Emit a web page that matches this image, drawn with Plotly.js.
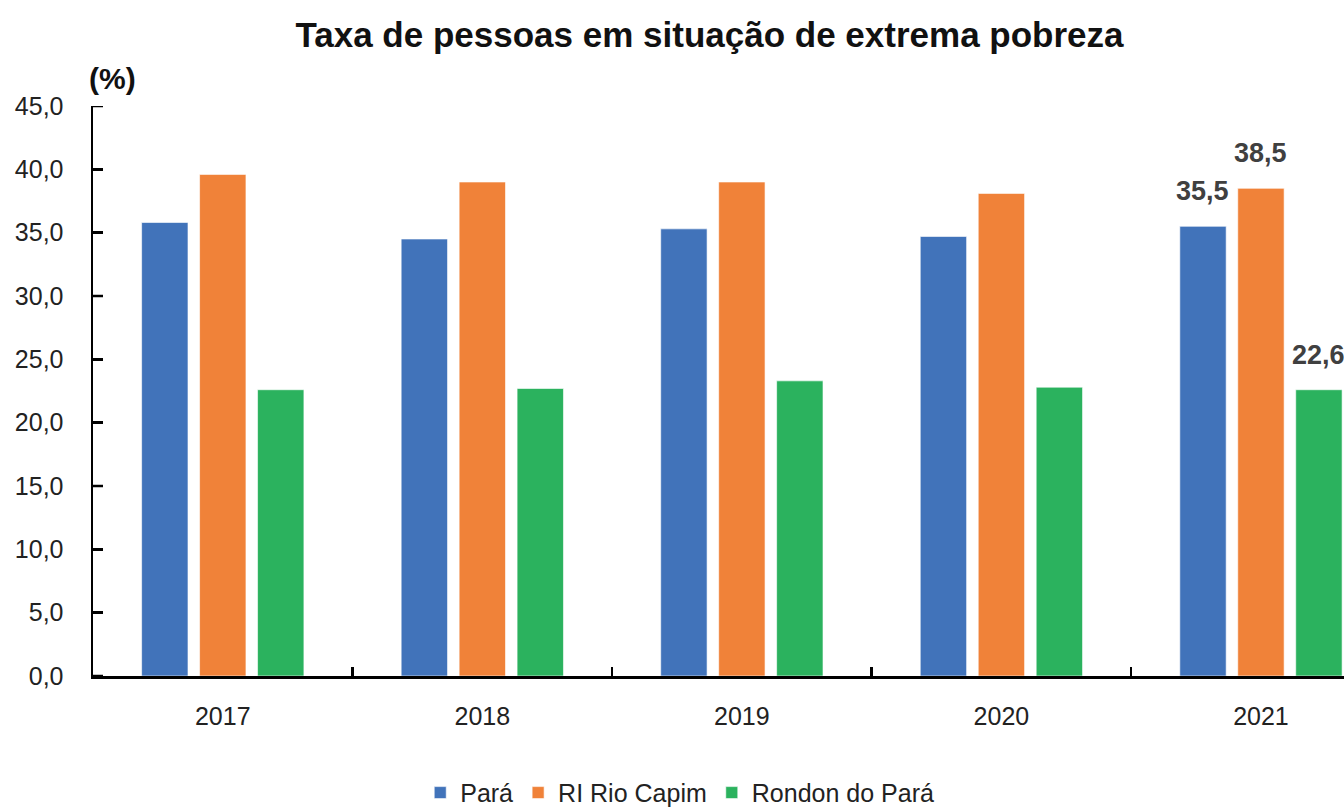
<!DOCTYPE html>
<html>
<head>
<meta charset="utf-8">
<script src="https://cdn.plot.ly/plotly-3.0.1.min.js"></script>
<style>html,body{margin:0;padding:0;background:#fff;}#chart{width:1344px;height:808px;}</style>
</head>
<body>
<div id="chart"></div>
<script>
const years = ['2017', '2018', '2019', '2020', '2021'];
const para = [35.8, 34.5, 35.3, 34.7, 35.5];
const rioCapim = [39.6, 39.0, 39.0, 38.1, 38.5];
const rondon = [22.6, 22.7, 23.3, 22.8, 22.6];
const seriesNames = ['Pará', 'RI Rio Capim', 'Rondon do Pará'];
const colors = ['#4173BA', '#F08239', '#2BB25E'];
const yTicks = [0, 5, 10, 15, 20, 25, 30, 35, 40, 45];

const FONT = '"Liberation Sans", Arial, sans-serif';
const fmt = v => v.toFixed(1).replace('.', ',');

const W = 1344, H = 808;
const M = {l: 93, r: 0, t: 106, b: 132};
const xRange = [-0.5, 4.32];
const BARGAP = 0.33, GROUPGAP = 0.2;

const allSeries = [para, rioCapim, rondon];
const traces = allSeries.map((vals, k) => ({
  type: 'bar',
  name: seriesNames[k],
  x: years,
  y: vals,
  marker: {color: colors[k], line: {color: 'rgba(255,255,255,0.6)', width: 1}},
  hoverinfo: 'skip'
}));

// data labels for the last year, placed over each bar of the group
const catPx = (W - M.l - M.r) / (xRange[1] - xRange[0]);
const slotPx = catPx * (1 - BARGAP) / allSeries.length;
const last = years.length - 1;
const labelAnns = allSeries.map((vals, k) => ({
  x: last, y: vals[last],
  xref: 'x', yref: 'y',
  text: '<b>' + fmt(vals[last]) + '</b>',
  showarrow: false,
  xanchor: 'center', yanchor: 'bottom',
  xshift: (k - (allSeries.length - 1) / 2) * slotPx,
  yshift: 18,
  font: {family: FONT, size: 27, color: '#404040'}
}));

// y-axis tick marks pointing into the plot (10 px), including the end ticks
const tickLenCat = 10 / catPx;
const yTickShapes = yTicks.map(v => ({
  type: 'line', layer: 'above',
  xref: 'x', yref: 'y',
  x0: xRange[0], x1: xRange[0] + tickLenCat, y0: v, y1: v,
  line: {color: '#000', width: 2.5}
}));

const layout = {
  width: W,
  height: H,
  paper_bgcolor: '#fff',
  plot_bgcolor: '#fff',
  separators: ',.',
  margin: {l: M.l, r: M.r, t: M.t, b: M.b, pad: 0, autoexpand: false},
  font: {family: FONT, color: '#222'},
  title: {
    text: '<b>Taxa de pessoas em situação de extrema pobreza</b>',
    font: {family: FONT, size: 35, color: '#111'},
    x: 709.5 / W, xanchor: 'center', xref: 'container',
    y: 1 - 35 / H, yanchor: 'middle', yref: 'container'
  },
  barmode: 'group',
  bargap: BARGAP,
  bargroupgap: GROUPGAP,
  xaxis: {
    type: 'category',
    range: xRange,
    showline: true, linecolor: '#000', linewidth: 2.5,
    ticks: 'inside', ticklen: 9, tickwidth: 2.5, tickcolor: '#000',
    tickson: 'boundaries',
    tickfont: {family: FONT, size: 25, color: '#222'},
    ticklabelstandoff: 16,
    showgrid: false, zeroline: false, fixedrange: true
  },
  yaxis: {
    range: [0, 45],
    tickmode: 'array',
    tickvals: yTicks,
    ticktext: yTicks.map(fmt),
    showline: true, linecolor: '#000', linewidth: 2.5,
    ticks: 'inside', ticklen: 10, tickwidth: 2.5, tickcolor: '#000',
    tickfont: {family: FONT, size: 25, color: '#222'},
    ticklabelstandoff: 22,
    showgrid: false, zeroline: false, fixedrange: true
  },
  showlegend: true,
  legend: {
    orientation: 'h',
    x: 0.469, xanchor: 'center',
    y: -0.205, yanchor: 'middle',
    font: {family: FONT, size: 25, color: '#222'},
    itemwidth: 30,
    traceorder: 'normal'
  },
  shapes: yTickShapes,
  annotations: labelAnns.concat([{
    text: '<b>(%)</b>',
    xref: 'paper', yref: 'paper',
    x: 0, y: 1, xanchor: 'center', yanchor: 'middle',
    xshift: 19, yshift: 28,
    showarrow: false,
    font: {family: FONT, size: 30, color: '#111'}
  }])
};

Plotly.newPlot('chart', traces, layout, {displayModeBar: false, staticPlot: true});
</script>
</body>
</html>
